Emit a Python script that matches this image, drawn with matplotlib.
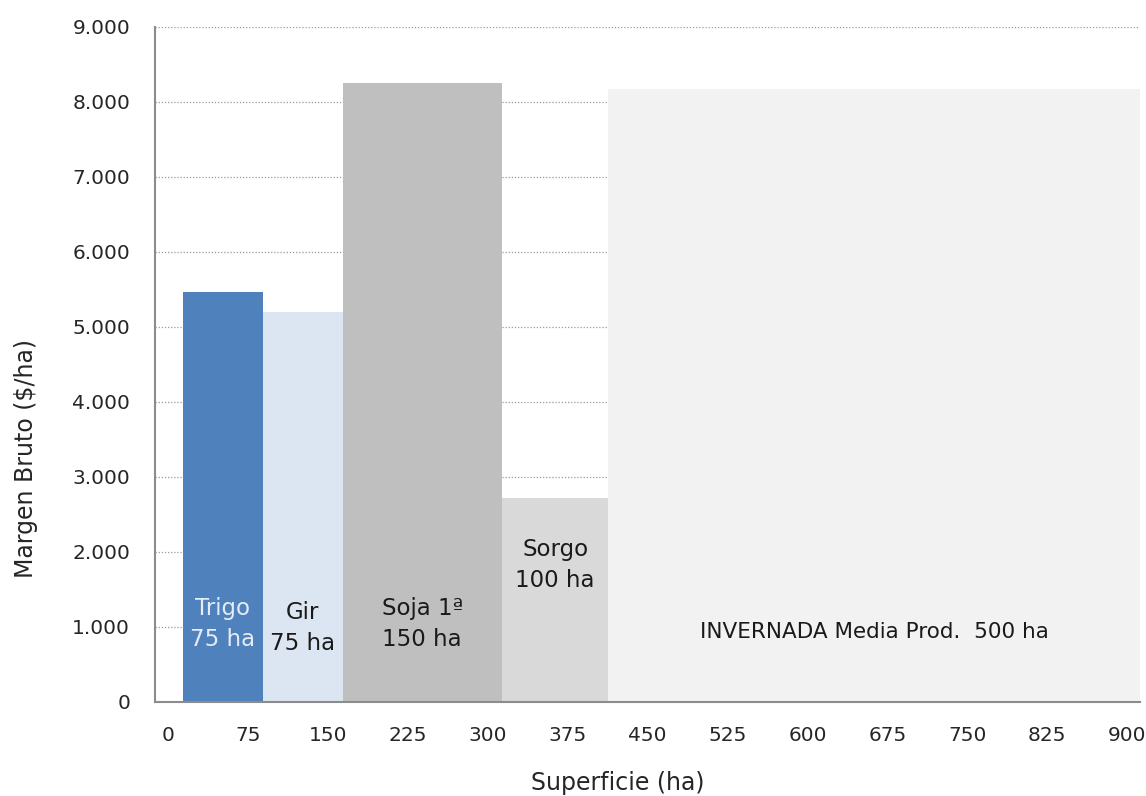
import numpy as np
import matplotlib
matplotlib.use("Agg")
import matplotlib.pyplot as plt

# Data
crops = ["Trigo", "Gir", "Soja 1ª", "Sorgo", "INVERNADA Media Prod."]
hectares = [75, 75, 150, 100, 500]
margen = [5460, 5200, 8250, 2720, 8170]
bar_labels = ["Trigo\n75 ha", "Gir\n75 ha", "Soja 1ª\n150 ha", "Sorgo\n100 ha",
              "INVERNADA Media Prod.  500 ha"]
label_y = [1040, 990, 1040, 1830, 930]
x_ticks = list(range(0, 901, 75))
y_ticks = list(range(0, 9001, 1000))

colors = ["#4F81BD", "#DCE6F2", "#BFBFBF", "#D9D9D9", "#F2F2F2"]
text_colors = ["#E4ECF6", "#1a1a1a", "#1a1a1a", "#1a1a1a", "#1a1a1a"]
label_sizes = [16.5, 16.5, 16.5, 16.5, 15.5]

plt.rcParams["font.family"] = ["DejaVu Sans"]

fig = plt.figure(figsize=(11.46, 7.96), dpi=100)
ax = fig.add_axes([0.1353, 0.1181, 0.8595, 0.848])

starts = np.concatenate([[0], np.cumsum(hectares)[:-1]])
ax.bar(starts, margen, width=hectares, align="edge", color=colors,
       linewidth=0, zorder=2)

for s, w, lab, ly, tc, fs in zip(starts, hectares, bar_labels, label_y,
                                 text_colors, label_sizes):
    ax.text(s + w / 2, ly, lab, ha="center", va="center", color=tc,
            fontsize=fs, linespacing=1.45, zorder=3)

ax.set_xlim(-26.3, 900)
ax.set_ylim(0, 9000)

# tick labels in the original sit slightly left of their values
tick_pos = np.array(x_ticks) * (902 / 900) - 14
ax.set_xticks(tick_pos)
ax.set_xticklabels([str(t) for t in x_ticks])
ax.set_yticks(y_ticks)
ax.set_yticklabels([f"{t:,}".replace(",", ".") for t in y_ticks])
ax.tick_params(axis="both", length=0, labelsize=14.5, colors="#262626")
ax.tick_params(axis="y", pad=18)
ax.tick_params(axis="x", pad=17)

ax.grid(axis="y", color="#9a9a9a", linestyle=(0, (1, 1.5)), linewidth=0.9,
        zorder=1)
ax.set_axisbelow(True)

for side in ["top", "right"]:
    ax.spines[side].set_visible(False)
for side in ["left", "bottom"]:
    ax.spines[side].set_color("#8c8c8c")
    ax.spines[side].set_linewidth(1.5)

fig.text(618 / 1146, 1 - 783 / 796, "Superficie (ha)", fontsize=17,
         color="#262626", ha="center", va="center")
fig.text(26 / 1146, 1 - 459 / 796, "Margen Bruto ($/ha)", fontsize=17,
         color="#262626", ha="center", va="center", rotation=90)

fig.savefig("out.png", dpi=100)
